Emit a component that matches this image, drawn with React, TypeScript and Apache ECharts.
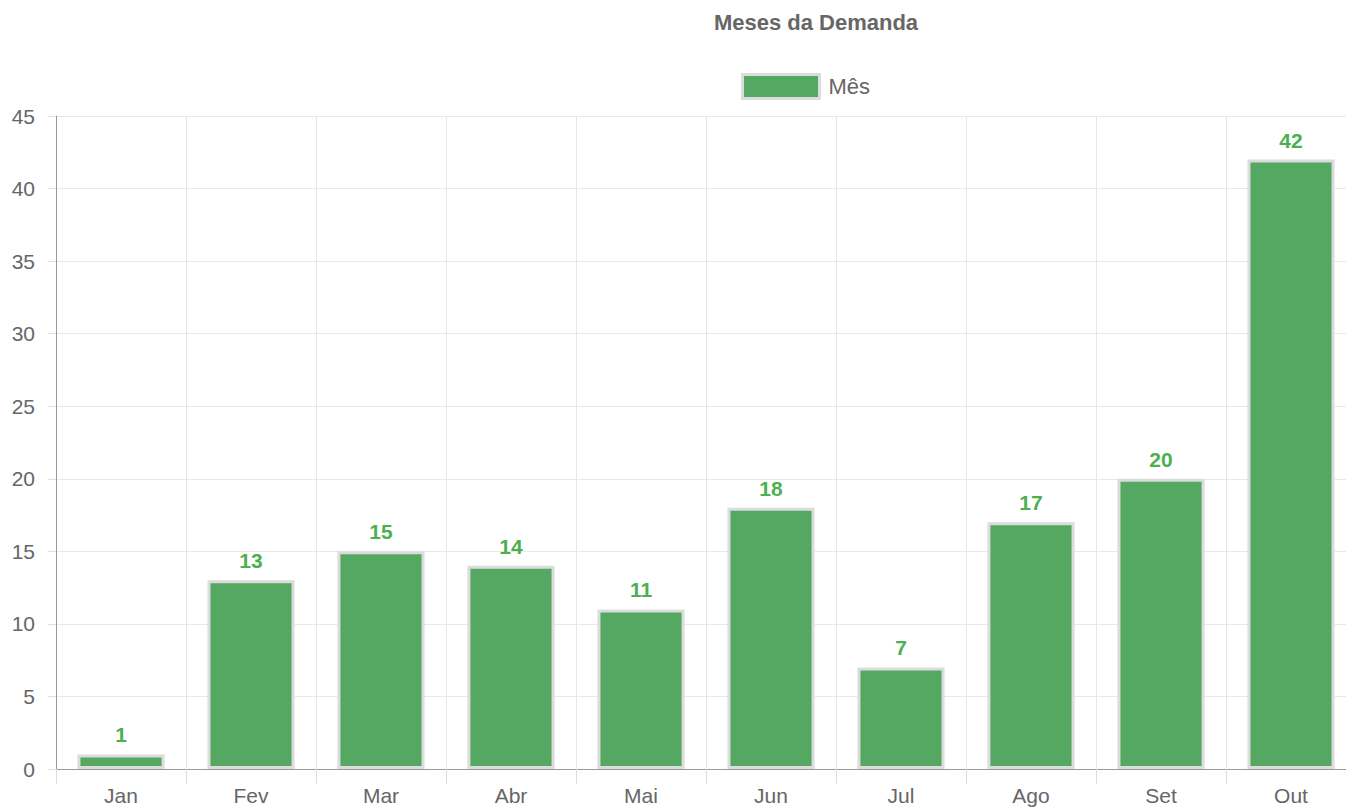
import React, { useEffect, useRef } from "react";
import * as echarts from "echarts";

const categories = ["Jan", "Fev", "Mar", "Abr", "Mai", "Jun", "Jul", "Ago", "Set", "Out"];
const values = [1, 13, 15, 14, 11, 18, 7, 17, 20, 42];
const seriesName = "Mês";
const titleText = "Meses da Demanda";

export default function App() {
  const ref = useRef<HTMLDivElement>(null);
  useEffect(() => {
    document.body.style.margin = "0";
    const chart = echarts.init(ref.current!, null, { renderer: "svg" });
    const font = "'Liberation Sans', Arial, sans-serif";
    chart.setOption({
      animation: false,
      textStyle: { fontFamily: font },
      title: {
        text: titleText,
        left: 811,
        textAlign: "center",
        top: 6,
        textStyle: { fontSize: 22, fontWeight: "bold", color: "#666", fontFamily: font },
      },
      legend: {
        top: 73,
        left: 741,
        padding: 0,
        icon: "rect",
        itemWidth: 77,
        itemHeight: 24,
        itemGap: 10,
        textStyle: { fontSize: 22, color: "#666", fontFamily: font, padding: [0, 0, 0, 4] },
        data: [{ name: seriesName, itemStyle: { color: "#55a862", borderColor: "#dcdcdc", borderWidth: 3 } }],
      },
      grid: { left: 56, right: 0, top: 116, bottom: 41, containLabel: false, outerBoundsMode: "none" },
      xAxis: {
        type: "category",
        data: categories,
        boundaryGap: true,
        axisLine: { lineStyle: { color: "#999", width: 1 } },
        axisTick: { show: true, alignWithLabel: false, length: 15, lineStyle: { color: "#ddd" } },
        axisLabel: { color: "#666", fontSize: 21, margin: 16, fontFamily: font },
        splitLine: { show: true, lineStyle: { color: "#e6e6e6" } },
      },
      yAxis: {
        type: "value",
        min: 0,
        max: 45,
        interval: 5,
        axisLine: { show: true, lineStyle: { color: "#999" } },
        axisTick: { show: true, length: 8, lineStyle: { color: "#e0e0e0" } },
        axisLabel: { color: "#666", fontSize: 21, margin: 21, fontFamily: font },
        splitLine: { show: true, lineStyle: { color: "#e8e8e8" } },
      },
      series: [
        {
          name: seriesName,
          type: "bar",
          data: values,
          barWidth: "67%",
          itemStyle: { color: "#55a862", borderColor: "#dcdcdc", borderWidth: 3 },
          label: {
            show: true,
            position: "top",
            distance: 9,
            color: "#4cb050",
            fontSize: 21,
            fontWeight: "bold",
            fontFamily: font,
          },
        },
      ],
    });
    return () => chart.dispose();
  }, []);
  return (
    <div style={{ width: 1346, height: 810, overflow: "hidden", position: "relative" }}>
      <div ref={ref} style={{ width: 1356, height: 810 }} />
    </div>
  );
}
